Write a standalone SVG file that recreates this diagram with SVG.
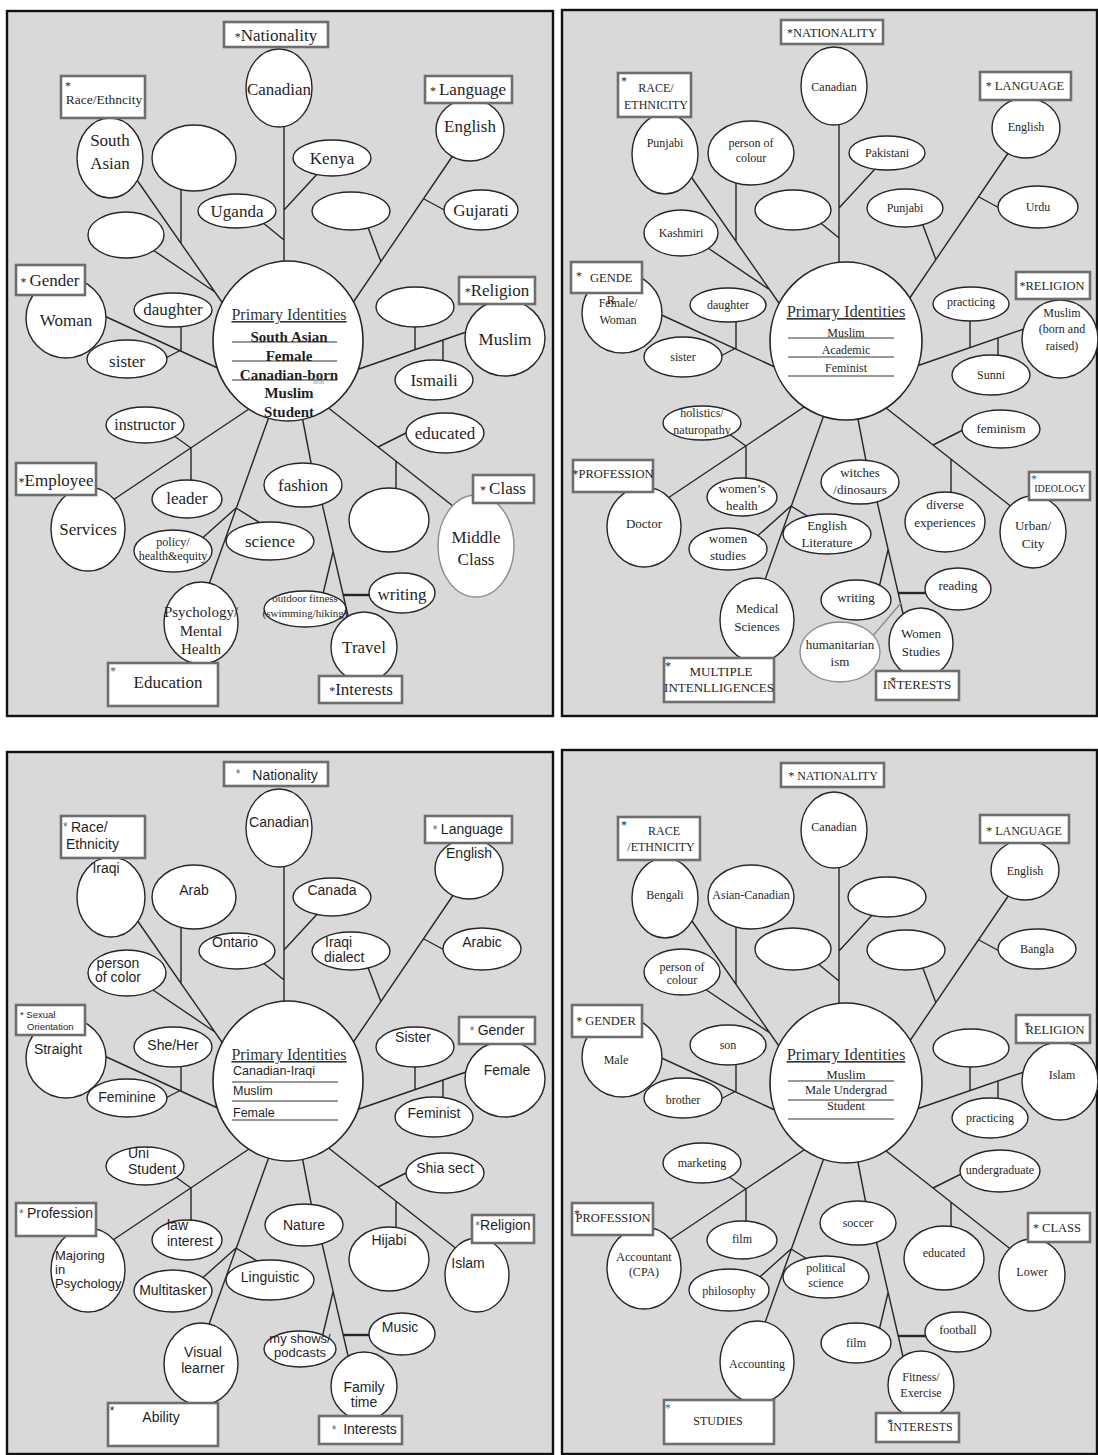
<svg xmlns="http://www.w3.org/2000/svg" width="1098" height="1455" viewBox="0 0 1098 1455">
<style>
.frame{fill:#d9d9d9;stroke:#111;stroke-width:2.4}
.cn{fill:none;stroke:#262626;stroke-width:1.4}
.cn.wide{stroke-width:2.4}
.cn.grey{stroke:#8c8c8c}
.nd{fill:#fff;stroke:#262626;stroke-width:1.4}
.nd.g{stroke:#8c8c8c}
.hub{fill:#fff;stroke:#262626;stroke-width:1.6}
.lb{fill:#fff;stroke:#6e6e6e;stroke-width:2.6}
.rule{fill:none;stroke:#333;stroke-width:1.1}
text{fill:#1f1f1f;text-anchor:middle}
.sf{font-family:"Liberation Serif","Times New Roman",serif}
.ss{font-family:"Liberation Sans",Arial,sans-serif}
.l{text-anchor:start}
.b{font-weight:bold}
.u{text-decoration:underline;fill:#333}
.ast{font-size:12px}
.blue{fill:#3b5e9c}
.f7{font-size:7px}.f9{font-size:9.5px}.f10{font-size:10px}.f11{font-size:11px}.f12{font-size:12px}.f125{font-size:12.5px}
.f13{font-size:13px}.f135{font-size:13.5px}.f14{font-size:14px}.f15{font-size:15px}.f16{font-size:16px}.f165{font-size:16.5px}.f17{font-size:17px}
</style>
<defs>
<!-- shared branch layout of one identity map, in panel-local coordinates -->
<g id="tree">
<path class="cn" d="M284,120V268M284,210L320,171M284,240L262,222M130,170L226,308M181,185V243M150,248L215,292M100,314L222,370M181,320V351M160,361L181,350M458,148L350,307M448,212L424,199M366,222L381,262M472,330L356,370M415,322V349M443,365V340M252,407L110,502M170,433L191,448V485M270,414L207,590M236,508L198,542M236,508L262,524M302,416L312,468M321,499L349,620M333,552L322,598M326,406L458,510M410,431L378,447M396,461V497"/>
<path class="cn wide" d="M343,595H372"/>
</g>
</defs>
<rect width="1098" height="1455" fill="#fff"/>
<g id="frames">
<rect class="frame" x="7" y="11" width="546" height="705"/>
<rect class="frame" x="562" y="10" width="535" height="706"/>
<rect class="frame" x="7" y="752" width="546" height="702"/>
<rect class="frame" x="562" y="750" width="535" height="704"/>
</g>
<g id="connectors">
<use href="#tree"/>
<use href="#tree" transform="translate(555,-2)"/>
<use href="#tree" transform="translate(0,740)"/>
<use href="#tree" transform="translate(555,741)"/>
<path class="cn grey" d="M901,603L871,638"/>
</g>

<!-- map 1 -->
<g id="panel-1" class="sf f17">
<g id="p1-hub"><ellipse class="hub" cx="288" cy="341" rx="75" ry="80"/><text class="u f16" x="289" y="320">Primary Identities</text><path class="rule" d="M232,342H337M232,361H337M232,380H337"/><text class="b f15" x="289" y="342">South Asian</text><text class="b f15" x="289" y="361">Female</text><text class="b f15" x="289" y="380">Canadian-born</text><text class="b f15" x="289" y="398">Muslim</text><text class="b f15" x="289" y="417">Student</text><text class="f7 l" x="313" y="384" style="fill:#8a8a8a">tion</text></g>
<g id="p1-nationality"><ellipse class="nd" cx="279" cy="88" rx="33" ry="39"/><text x="279" y="95">Canadian</text><rect class="lb" x="224" y="22" width="104" height="25"/><text x="276" y="41"><tspan class="ast">*</tspan>Nationality</text></g>
<g id="p1-race"><ellipse class="nd" cx="110" cy="158" rx="33" ry="40"/><text x="110" y="146">South</text><text x="110" y="169">Asian</text><rect class="lb" x="61" y="76" width="84" height="42"/><text class="l ast" x="65" y="90">*</text><text class="f135" x="104" y="104">Race/Ethncity</text></g>
<g id="p1-blank-a"><ellipse class="nd" cx="194" cy="158" rx="42" ry="33"/></g>
<g id="p1-kenya"><ellipse class="nd" cx="332" cy="158" rx="39" ry="18"/><text x="332" y="164">Kenya</text></g>
<g id="p1-uganda"><ellipse class="nd" cx="237" cy="211" rx="39" ry="17"/><text x="237" y="217">Uganda</text></g>
<g id="p1-blank-b"><ellipse class="nd" cx="351" cy="211" rx="39" ry="19"/></g>
<g id="p1-language"><ellipse class="nd" cx="470" cy="130" rx="34" ry="31"/><text x="470" y="132">English</text><rect class="lb" x="425" y="76" width="87" height="27"/><text x="468" y="95"><tspan class="ast">* </tspan>Language</text></g>
<g id="p1-gujarati"><ellipse class="nd" cx="481" cy="210" rx="37" ry="20"/><text x="481" y="216">Gujarati</text></g>
<g id="p1-blank-c"><ellipse class="nd" cx="126" cy="235" rx="38" ry="23"/></g>
<g id="p1-gender"><ellipse class="nd" cx="66" cy="318" rx="40" ry="40"/><text x="66" y="326">Woman</text><rect class="lb" x="16" y="265" width="69" height="30"/><text x="50" y="286"><tspan class="ast">* </tspan>Gender</text></g>
<g id="p1-daughter"><ellipse class="nd" cx="173" cy="310" rx="39" ry="17"/><text x="173" y="315">daughter</text></g>
<g id="p1-sister"><ellipse class="nd" cx="127" cy="359" rx="40" ry="19"/><text x="127" y="367">sister</text></g>
<g id="p1-religion"><ellipse class="nd" cx="505" cy="338" rx="40" ry="38"/><text x="505" y="345">Muslim</text><rect class="lb" x="459" y="277" width="76" height="27"/><text x="497" y="296"><tspan class="ast">*</tspan>Religion</text></g>
<g id="p1-blank-d"><ellipse class="nd" cx="415" cy="307" rx="39" ry="20"/></g>
<g id="p1-ismaili"><ellipse class="nd" cx="434" cy="380" rx="39" ry="20"/><text x="434" y="386">Ismaili</text></g>
<g id="p1-instructor"><ellipse class="nd" cx="145" cy="425" rx="39" ry="18"/><text class="f16" x="145" y="430">instructor</text></g>
<g id="p1-educated"><ellipse class="nd" cx="445" cy="433" rx="39" ry="20"/><text x="445" y="439">educated</text></g>
<g id="p1-employee"><ellipse class="nd" cx="88" cy="529" rx="37" ry="42"/><text x="88" y="535">Services</text><rect class="lb" x="16" y="463" width="80" height="32"/><text x="56" y="486"><tspan class="ast">*</tspan>Employee</text></g>
<g id="p1-leader"><ellipse class="nd" cx="187" cy="499" rx="35" ry="19"/><text x="187" y="504">leader</text></g>
<g id="p1-policy"><ellipse class="nd" cx="173" cy="551" rx="39" ry="21"/><text class="f12" x="173" y="546">policy/</text><text class="f12" x="173" y="560">health&amp;equity</text></g>
<g id="p1-science"><ellipse class="nd" cx="270" cy="541" rx="44" ry="19"/><text x="270" y="547">science</text></g>
<g id="p1-fashion"><ellipse class="nd" cx="303" cy="485" rx="39" ry="22"/><text x="303" y="491">fashion</text></g>
<g id="p1-blank-e"><ellipse class="nd" cx="389" cy="520" rx="40" ry="32"/></g>
<g id="p1-class"><ellipse class="nd g" cx="476" cy="546" rx="38" ry="51"/><text x="476" y="543">Middle</text><text x="476" y="565">Class</text><rect class="lb" x="473" y="475" width="61" height="28"/><text x="503" y="494"><tspan class="ast">* </tspan>Class</text></g>
<g id="p1-education"><ellipse class="nd" cx="201" cy="623" rx="37" ry="41"/><text class="f15" x="201" y="617">Psychology/</text><text class="f15" x="201" y="636">Mental</text><text class="f15" x="201" y="654">Health</text><rect class="lb" x="108" y="663" width="110" height="43"/><text class="ast blue" x="113" y="675">*</text><text x="168" y="688">Education</text></g>
<g id="p1-outdoor"><ellipse class="nd" cx="305" cy="609" rx="41" ry="18"/><text class="f11" x="305" y="602">outdoor fitness</text><text class="f11" x="305" y="617">(swimming/hiking)</text></g>
<g id="p1-writing"><ellipse class="nd" cx="402" cy="593" rx="33" ry="20"/><text x="402" y="600">writing</text></g>
<g id="p1-interests"><ellipse class="nd" cx="364" cy="647" rx="33" ry="35"/><text x="364" y="653">Travel</text><rect class="lb" x="319" y="676" width="83" height="27"/><text x="361" y="695"><tspan class="ast">*</tspan>Interests</text></g>
</g>

<!-- map 2 -->
<g id="panel-2" class="sf f12" transform="translate(555,-2)">
<g id="p2-hub"><ellipse class="hub" cx="291" cy="343" rx="76" ry="79"/><text class="u f165" x="291" y="319">Primary Identities</text><path class="rule" d="M233,340H339M233,359H339M233,378H339"/><text x="291" y="339">Muslim</text><text x="291" y="356">Academic</text><text x="291" y="374">Feminist</text></g>
<g id="p2-nationality"><ellipse class="nd" cx="279" cy="88" rx="33" ry="39"/><text x="279" y="93">Canadian</text><rect class="lb" x="226" y="22" width="102" height="24"/><text class="f125" x="277" y="39"><tspan class="ast">*</tspan>NATIONALITY</text></g>
<g id="p2-race"><ellipse class="nd" cx="110" cy="156" rx="33" ry="40"/><text x="110" y="149">Punjabi</text><rect class="lb" x="63" y="75" width="73" height="44"/><text class="l ast" x="66" y="87">*</text><text x="101" y="94">RACE/</text><text x="101" y="111">ETHNICITY</text></g>
<g id="p2-colour"><ellipse class="nd" cx="196" cy="155" rx="43" ry="32"/><text x="196" y="149">person of</text><text x="196" y="164">colour</text></g>
<g id="p2-pakistani"><ellipse class="nd" cx="332" cy="155" rx="38" ry="17"/><text x="332" y="159">Pakistani</text></g>
<g id="p2-blank-a"><ellipse class="nd" cx="238" cy="212" rx="38" ry="20"/></g>
<g id="p2-punjabi"><ellipse class="nd" cx="350" cy="210" rx="38" ry="19"/><text x="350" y="214">Punjabi</text></g>
<g id="p2-language"><ellipse class="nd" cx="471" cy="130" rx="34" ry="30"/><text x="471" y="133">English</text><rect class="lb" x="425" y="74" width="91" height="28"/><text class="f125" x="470" y="92"><tspan class="ast">* </tspan>LANGUAGE</text></g>
<g id="p2-urdu"><ellipse class="nd" cx="483" cy="209" rx="40" ry="21"/><text x="483" y="213">Urdu</text></g>
<g id="p2-kashmiri"><ellipse class="nd" cx="126" cy="235" rx="37" ry="23"/><text x="126" y="239">Kashmiri</text></g>
<g id="p2-gender"><ellipse class="nd" cx="67" cy="315" rx="40" ry="40"/><text x="63" y="309">Female/</text><text x="63" y="326">Woman</text><rect class="lb" x="16" y="264" width="71" height="31"/><text class="l ast" x="21" y="282">*</text><text class="l f125" x="35" y="284">GENDE</text><text class="f125" x="56" y="306">R</text></g>
<g id="p2-daughter"><ellipse class="nd" cx="173" cy="307" rx="38" ry="17"/><text x="173" y="311">daughter</text></g>
<g id="p2-sister"><ellipse class="nd" cx="128" cy="359" rx="39" ry="20"/><text x="128" y="363">sister</text></g>
<g id="p2-practicing"><ellipse class="nd" cx="416" cy="306" rx="38" ry="17"/><text x="416" y="308">practicing</text></g>
<g id="p2-religion"><ellipse class="nd" cx="505" cy="341" rx="38" ry="39"/><text x="507" y="319">Muslim</text><text x="507" y="335">(born and</text><text x="507" y="352">raised)</text><rect class="lb" x="461" y="274" width="74" height="27"/><text class="f125" x="497" y="292"><tspan class="ast">*</tspan>RELIGION</text></g>
<g id="p2-sunni"><ellipse class="nd" cx="436" cy="377" rx="39" ry="20"/><text x="436" y="381">Sunni</text></g>
<g id="p2-holistics"><ellipse class="nd" cx="147" cy="425" rx="39" ry="17"/><text x="147" y="419">holistics/</text><text x="147" y="436">naturopathy</text></g>
<g id="p2-feminism"><ellipse class="nd" cx="446" cy="431" rx="39" ry="19"/><text class="f13" x="446" y="435">feminism</text></g>
<g id="p2-witches"><ellipse class="nd" cx="305" cy="484" rx="39" ry="22"/><text class="f13" x="305" y="479">witches</text><text class="f13" x="305" y="496">/dinosaurs</text></g>
<g id="p2-profession"><ellipse class="nd" cx="89" cy="529" rx="37" ry="40"/><text class="f13" x="89" y="530">Doctor</text><rect class="lb" x="18" y="462" width="80" height="32"/><text class="f125" x="58" y="480"><tspan class="ast">*</tspan>PROFESSION</text></g>
<g id="p2-womens-health"><ellipse class="nd" cx="187" cy="499" rx="35" ry="19"/><text class="f13" x="187" y="495">women’s</text><text class="f13" x="187" y="512">health</text></g>
<g id="p2-english-lit"><ellipse class="nd" cx="272" cy="536" rx="44" ry="20"/><text class="f13" x="272" y="532">English</text><text class="f13" x="272" y="549">Literature</text></g>
<g id="p2-women-studies"><ellipse class="nd" cx="173" cy="551" rx="39" ry="21"/><text class="f13" x="173" y="545">women</text><text class="f13" x="173" y="562">studies</text></g>
<g id="p2-diverse"><ellipse class="nd" cx="390" cy="524" rx="40" ry="30"/><text class="f13" x="390" y="511">diverse</text><text class="f13" x="390" y="529">experiences</text></g>
<g id="p2-ideology"><ellipse class="nd" cx="478" cy="534" rx="33" ry="36"/><text class="f13" x="478" y="532">Urban/</text><text class="f13" x="478" y="550">City</text><rect class="lb" x="474" y="474" width="61" height="28"/><text class="ast blue" x="479" y="485">*</text><text class="f10" x="505" y="494">IDEOLOGY</text></g>
<g id="p2-writing"><ellipse class="nd" cx="301" cy="602" rx="35" ry="20"/><text class="f13" x="301" y="604">writing</text></g>
<g id="p2-reading"><ellipse class="nd" cx="403" cy="591" rx="33" ry="21"/><text class="f13" x="403" y="592">reading</text></g>
<g id="p2-multiple"><ellipse class="nd" cx="202" cy="622" rx="37" ry="42"/><text class="f13" x="202" y="615">Medical</text><text class="f13" x="202" y="633">Sciences</text><rect class="lb" x="109" y="660" width="110" height="44"/><text class="ast" x="113" y="672">*</text><text class="f13" x="166" y="678">MULTIPLE</text><text class="f13" x="164" y="694">INTENLLIGENCES</text></g>
<g id="p2-humanitarian"><ellipse class="nd g" cx="285" cy="654" rx="40" ry="30"/><text class="f13" x="285" y="651">humanitarian</text><text class="f13" x="285" y="668">ism</text></g>
<g id="p2-interests"><ellipse class="nd" cx="366" cy="645" rx="32" ry="35"/><text class="f13" x="366" y="640">Women</text><text class="f13" x="366" y="658">Studies</text><rect class="lb" x="321" y="673" width="83" height="29"/><text class="f13" x="362" y="691">INTERESTS</text><text class="ast" x="338" y="687">*</text></g>
</g>

<!-- map 3 -->
<g id="panel-3" class="ss f14" transform="translate(0,740)">
<g id="p3-hub"><ellipse class="hub" cx="288" cy="341" rx="75" ry="80"/><text class="sf u f16" x="289" y="320">Primary Identities</text><path class="rule" d="M232,342H338M232,361H338M232,380H338"/><text class="l f125" x="233" y="335">Canadian-Iraqi</text><text class="l f125" x="233" y="355">Muslim</text><text class="l f125" x="233" y="377">Female</text></g>
<g id="p3-nationality"><ellipse class="nd" cx="279" cy="88" rx="33" ry="39"/><text x="279" y="87">Canadian</text><rect class="lb" x="224" y="22" width="104" height="24"/><text class="ast" x="238" y="38" style="fill:#666">*</text><text x="285" y="40">Nationality</text></g>
<g id="p3-race"><ellipse class="nd" cx="111" cy="157" rx="34" ry="40"/><text x="106" y="133">Iraqi</text><rect class="lb" x="61" y="76" width="84" height="42"/><text class="l ast" x="63" y="91" style="fill:#666">*</text><text class="l" x="71" y="92">Race/</text><text class="l" x="66" y="109">Ethnicity</text></g>
<g id="p3-arab"><ellipse class="nd" cx="194" cy="157" rx="42" ry="32"/><text x="194" y="155">Arab</text></g>
<g id="p3-canada"><ellipse class="nd" cx="332" cy="157" rx="39" ry="19"/><text x="332" y="155">Canada</text></g>
<g id="p3-ontario"><ellipse class="nd" cx="237" cy="211" rx="38" ry="18"/><text x="235" y="207">Ontario</text></g>
<g id="p3-dialect"><ellipse class="nd" cx="351" cy="211" rx="39" ry="19"/><text class="l" x="325" y="207">Iraqi</text><text class="l" x="324" y="222">dialect</text></g>
<g id="p3-language"><ellipse class="nd" cx="469" cy="129" rx="34" ry="30"/><text x="469" y="118">English</text><rect class="lb" x="425" y="76" width="87" height="27"/><text x="468" y="94"><tspan class="ast" style="fill:#666">* </tspan>Language</text></g>
<g id="p3-arabic"><ellipse class="nd" cx="482" cy="209" rx="39" ry="21"/><text x="482" y="207">Arabic</text></g>
<g id="p3-color"><ellipse class="nd" cx="127" cy="233" rx="39" ry="23"/><text x="118" y="228">person</text><text x="118" y="242">of color</text></g>
<g id="p3-orientation"><ellipse class="nd" cx="66" cy="318" rx="40" ry="40"/><text x="58" y="314">Straight</text><rect class="lb" x="16" y="265" width="69" height="30"/><text class="l f9" x="20" y="278">* Sexual</text><text class="l f9" x="27" y="290">Orientation</text></g>
<g id="p3-sheher"><ellipse class="nd" cx="173" cy="307" rx="39" ry="20"/><text x="173" y="310">She/Her</text></g>
<g id="p3-feminine"><ellipse class="nd" cx="127" cy="358" rx="40" ry="19"/><text x="127" y="362">Feminine</text></g>
<g id="p3-sister"><ellipse class="nd" cx="415" cy="307" rx="39" ry="20"/><text x="413" y="302">Sister</text></g>
<g id="p3-gender"><ellipse class="nd" cx="505" cy="339" rx="40" ry="38"/><text x="507" y="335">Female</text><rect class="lb" x="459" y="277" width="76" height="27"/><text x="497" y="295"><tspan class="ast" style="fill:#666">* </tspan>Gender</text></g>
<g id="p3-feminist"><ellipse class="nd" cx="434" cy="377" rx="39" ry="20"/><text x="434" y="378">Feminist</text></g>
<g id="p3-uni"><ellipse class="nd" cx="145" cy="426" rx="39" ry="19"/><text class="l" x="128" y="418">Uni</text><text class="l" x="128" y="434">Student</text></g>
<g id="p3-shia"><ellipse class="nd" cx="445" cy="433" rx="39" ry="20"/><text x="445" y="433">Shia sect</text></g>
<g id="p3-profession"><ellipse class="nd" cx="88" cy="530" rx="37" ry="42"/><text class="l f13" x="55" y="520">Majoring</text><text class="l f13" x="55" y="534">in</text><text class="l f13" x="55" y="548">Psychology</text><rect class="lb" x="16" y="463" width="80" height="33"/><text x="56" y="478"><tspan class="ast" style="fill:#666">* </tspan>Profession</text></g>
<g id="p3-law"><ellipse class="nd" cx="187" cy="500" rx="35" ry="20"/><text class="l" x="167" y="490">law</text><text class="l" x="167" y="506">interest</text></g>
<g id="p3-multitasker"><ellipse class="nd" cx="173" cy="551" rx="39" ry="21"/><text x="173" y="555">Multitasker</text></g>
<g id="p3-linguistic"><ellipse class="nd" cx="270" cy="540" rx="44" ry="20"/><text x="270" y="542">Linguistic</text></g>
<g id="p3-nature"><ellipse class="nd" cx="304" cy="485" rx="39" ry="21"/><text x="304" y="490">Nature</text></g>
<g id="p3-hijabi"><ellipse class="nd" cx="389" cy="519" rx="40" ry="32"/><text x="389" y="505">Hijabi</text></g>
<g id="p3-religion"><ellipse class="nd" cx="477" cy="535" rx="32" ry="37"/><text x="468" y="528">Islam</text><rect class="lb" x="472" y="475" width="62" height="28"/><text x="503" y="490"><tspan class="ast" style="fill:#666">*</tspan>Religion</text></g>
<g id="p3-ability"><ellipse class="nd" cx="201" cy="624" rx="37" ry="41"/><text x="203" y="617">Visual</text><text x="203" y="633">learner</text><rect class="lb" x="108" y="663" width="110" height="43"/><text class="ast" x="112" y="675">*</text><text x="161" y="682">Ability</text></g>
<g id="p3-shows"><ellipse class="nd" cx="300" cy="609" rx="36" ry="18"/><text class="f13" x="300" y="603">my shows/</text><text class="f13" x="300" y="617">podcasts</text></g>
<g id="p3-music"><ellipse class="nd" cx="402" cy="594" rx="33" ry="21"/><text x="400" y="592">Music</text></g>
<g id="p3-interests"><ellipse class="nd" cx="364" cy="646" rx="33" ry="34"/><text x="364" y="652">Family</text><text x="364" y="667">time</text><rect class="lb" x="319" y="676" width="83" height="28"/><text class="ast" x="334" y="694" style="fill:#666">*</text><text x="370" y="694">Interests</text></g>
</g>

<!-- map 4 -->
<g id="panel-4" class="sf f12" transform="translate(555,741)">
<g id="p4-hub"><ellipse class="hub" cx="291" cy="342" rx="76" ry="80"/><text class="u f165" x="291" y="319">Primary Identities</text><path class="rule" d="M233,340H339M233,359H339M233,378H339"/><text class="f125" x="291" y="338">Muslim</text><text class="f125" x="291" y="353">Male Undergrad</text><text class="f125" x="291" y="369">Student</text></g>
<g id="p4-nationality"><ellipse class="nd" cx="279" cy="89" rx="33" ry="38"/><text x="279" y="90">Canadian</text><rect class="lb" x="226" y="22" width="103" height="24"/><text x="278" y="39"><tspan class="ast">* </tspan>NATIONALITY</text></g>
<g id="p4-race"><ellipse class="nd" cx="110" cy="157" rx="33" ry="40"/><text x="110" y="158">Bengali</text><rect class="lb" x="63" y="76" width="82" height="43"/><text class="l ast" x="66" y="88">*</text><text x="109" y="94">RACE</text><text x="106" y="110">/ETHNICITY</text></g>
<g id="p4-asian"><ellipse class="nd" cx="196" cy="156" rx="43" ry="32"/><text x="196" y="158">Asian-Canadian</text></g>
<g id="p4-blank-a"><ellipse class="nd" cx="332" cy="156" rx="39" ry="20"/></g>
<g id="p4-blank-b"><ellipse class="nd" cx="238" cy="208" rx="38" ry="21"/></g>
<g id="p4-blank-c"><ellipse class="nd" cx="351" cy="209" rx="39" ry="20"/></g>
<g id="p4-language"><ellipse class="nd" cx="470" cy="129" rx="34" ry="30"/><text x="470" y="134">English</text><rect class="lb" x="425" y="74" width="89" height="28"/><text x="469" y="94"><tspan class="ast">* </tspan>LANGUAGE</text></g>
<g id="p4-bangla"><ellipse class="nd" cx="482" cy="208" rx="39" ry="20"/><text x="482" y="212">Bangla</text></g>
<g id="p4-colour"><ellipse class="nd" cx="127" cy="231" rx="38" ry="23"/><text x="127" y="230">person of</text><text x="127" y="243">colour</text></g>
<g id="p4-gender"><ellipse class="nd" cx="67" cy="316" rx="40" ry="40"/><text x="61" y="323">Male</text><rect class="lb" x="17" y="264" width="70" height="32"/><text class="f125" x="51" y="284"><tspan class="ast">* </tspan>GENDER</text></g>
<g id="p4-son"><ellipse class="nd" cx="173" cy="304" rx="38" ry="20"/><text x="173" y="308">son</text></g>
<g id="p4-brother"><ellipse class="nd" cx="128" cy="357" rx="39" ry="20"/><text x="128" y="363">brother</text></g>
<g id="p4-blank-d"><ellipse class="nd" cx="416" cy="307" rx="38" ry="19"/></g>
<g id="p4-religion"><ellipse class="nd" cx="505" cy="340" rx="38" ry="39"/><text x="507" y="338">Islam</text><rect class="lb" x="461" y="274" width="74" height="28"/><text class="f125" x="500" y="293">RELIGION</text><text class="ast" x="472" y="289">*</text></g>
<g id="p4-practicing"><ellipse class="nd" cx="435" cy="377" rx="38" ry="20"/><text x="435" y="381">practicing</text></g>
<g id="p4-marketing"><ellipse class="nd" cx="147" cy="422" rx="39" ry="20"/><text x="147" y="426">marketing</text></g>
<g id="p4-undergraduate"><ellipse class="nd" cx="445" cy="430" rx="40" ry="21"/><text x="445" y="433">undergraduate</text></g>
<g id="p4-profession"><ellipse class="nd" cx="89" cy="527" rx="37" ry="41"/><text x="89" y="520">Accountant</text><text x="89" y="535">(CPA)</text><rect class="lb" x="17" y="462" width="81" height="32"/><text class="f125" x="58" y="481">PROFESSION</text><text class="ast" x="22" y="477">*</text></g>
<g id="p4-soccer"><ellipse class="nd" cx="303" cy="482" rx="38" ry="22"/><text x="303" y="486">soccer</text></g>
<g id="p4-class"><ellipse class="nd" cx="477" cy="534" rx="33" ry="36"/><text x="477" y="535">Lower</text><rect class="lb" x="473" y="472" width="62" height="29"/><text class="f125" x="502" y="491"><tspan class="ast">* </tspan>CLASS</text></g>
<g id="p4-film-a"><ellipse class="nd" cx="187" cy="499" rx="35" ry="19"/><text x="187" y="502">film</text></g>
<g id="p4-philosophy"><ellipse class="nd" cx="174" cy="549" rx="40" ry="21"/><text x="174" y="554">philosophy</text></g>
<g id="p4-polisci"><ellipse class="nd" cx="271" cy="536" rx="43" ry="21"/><text x="271" y="531">political</text><text x="271" y="546">science</text></g>
<g id="p4-educated"><ellipse class="nd" cx="389" cy="517" rx="40" ry="32"/><text x="389" y="516">educated</text></g>
<g id="p4-film-b"><ellipse class="nd" cx="301" cy="602" rx="35" ry="20"/><text x="301" y="606">film</text></g>
<g id="p4-football"><ellipse class="nd" cx="403" cy="591" rx="33" ry="20"/><text x="403" y="593">football</text></g>
<g id="p4-studies"><ellipse class="nd" cx="202" cy="621" rx="37" ry="41"/><text x="202" y="627">Accounting</text><rect class="lb" x="109" y="659" width="110" height="44"/><text class="ast blue" x="113" y="671">*</text><text x="163" y="684">STUDIES</text></g>
<g id="p4-interests"><ellipse class="nd" cx="366" cy="644" rx="33" ry="34"/><text x="366" y="640">Fitness/</text><text x="366" y="656">Exercise</text><rect class="lb" x="321" y="672" width="83" height="29"/><text x="366" y="690">INTERESTS</text><text class="ast" x="335" y="686">*</text></g>
</g>
</svg>
